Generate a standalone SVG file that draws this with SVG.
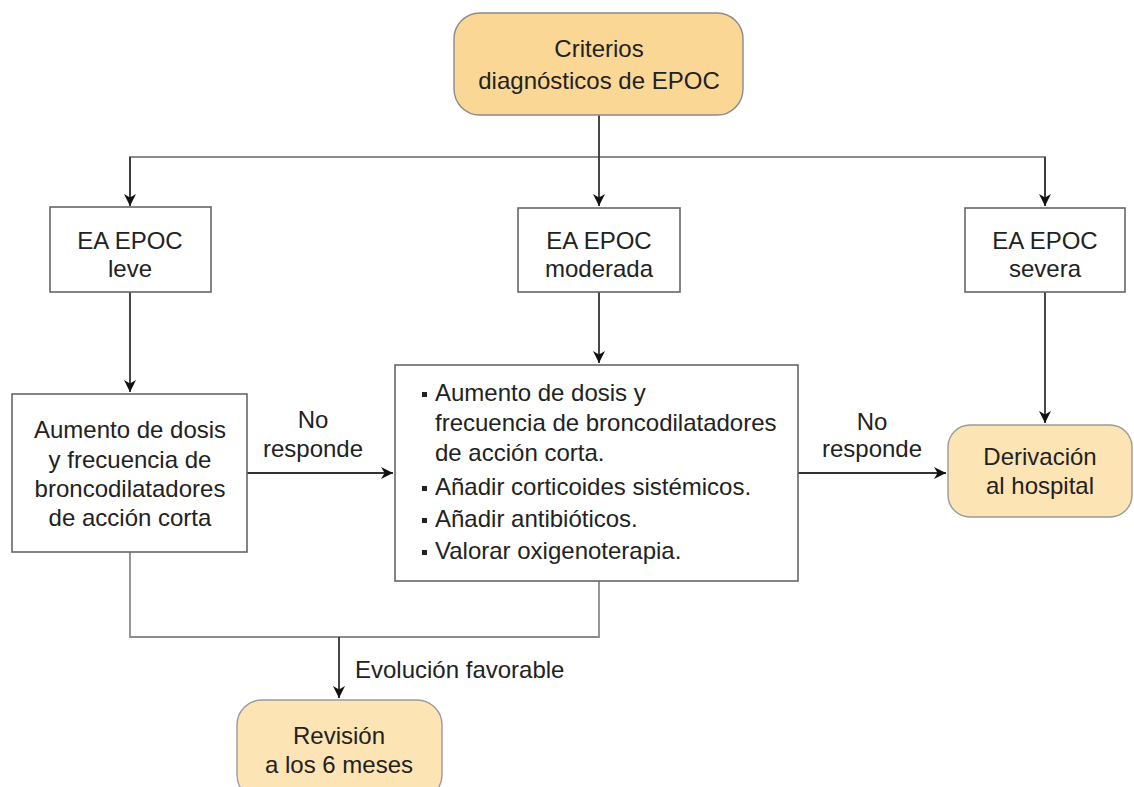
<svg xmlns="http://www.w3.org/2000/svg" width="1134" height="787" viewBox="0 0 1134 787">
<defs>
<style>
.box{fill:#ffffff;stroke:#666666;stroke-width:1.6}
.term{fill:#fde4b4;stroke:#9a9a9a;stroke-width:1.4}
.start{fill:#fbd796;stroke:#8a8a8a;stroke-width:1.4}
text{font-family:"Liberation Sans",Arial,sans-serif;font-size:24px;fill:#222222}
.c{text-anchor:middle}
.ln{fill:none;stroke:#333333;stroke-width:1.8}
.gl{fill:none;stroke:#8c8c8c;stroke-width:1.8}
</style>
<marker id="ah" markerWidth="12" markerHeight="12" refX="10" refY="5" orient="auto" markerUnits="userSpaceOnUse" viewBox="0 0 10 10">
<path d="M0,0 L10,5 L0,10 L3,5 Z" fill="#111111"/>
</marker>
</defs>
<rect width="1134" height="787" fill="#ffffff"/>
<g id="connectors">
<polyline class="gl" points="130,196 130,157 1045,157 1045,196"/>
<line class="ln" x1="130" y1="157" x2="130" y2="206" marker-end="url(#ah)"/>
<line class="ln" x1="1045" y1="157" x2="1045" y2="206" marker-end="url(#ah)"/>
<line class="ln" x1="599" y1="115" x2="599" y2="206" marker-end="url(#ah)"/>
<line class="ln" x1="130" y1="292" x2="130" y2="392" marker-end="url(#ah)"/>
<line class="ln" x1="599" y1="292" x2="599" y2="363" marker-end="url(#ah)"/>
<line class="ln" x1="1045" y1="292" x2="1045" y2="423" marker-end="url(#ah)"/>
<line class="ln" x1="247" y1="473" x2="393" y2="473" marker-end="url(#ah)"/>
<line class="ln" x1="798" y1="473" x2="946" y2="473" marker-end="url(#ah)"/>
<polyline class="gl" points="130,552 130,637 599,637 599,581"/>
<line class="ln" x1="339" y1="637" x2="339" y2="698" marker-end="url(#ah)"/>
<text x="313" y="428" class="c">No</text>
<text x="313" y="457" class="c">responde</text>
<text x="872" y="430" class="c">No</text>
<text x="872" y="457" class="c">responde</text>
<text x="355" y="678">Evolución favorable</text>
</g>
<g id="criterios">
<rect class="start" x="454" y="13" width="289" height="102" rx="26"/>
<text x="599" y="57" class="c">Criterios</text>
<text x="599" y="89" class="c">diagnósticos de EPOC</text>
</g>
<g id="leve">
<rect class="box" x="50" y="207" width="161" height="85"/>
<text x="130" y="249" class="c">EA EPOC</text>
<text x="130" y="277" class="c">leve</text>
</g>
<g id="moderada">
<rect class="box" x="518" y="208" width="162" height="84"/>
<text x="599" y="249" class="c">EA EPOC</text>
<text x="599" y="277" class="c">moderada</text>
</g>
<g id="severa">
<rect class="box" x="965" y="208" width="160" height="84"/>
<text x="1045" y="249" class="c">EA EPOC</text>
<text x="1045" y="277" class="c">severa</text>
</g>
<g id="tratamiento-leve">
<rect class="box" x="12" y="394" width="235" height="158"/>
<text x="130" y="438" class="c">Aumento de dosis</text>
<text x="130" y="468" class="c">y frecuencia de</text>
<text x="130" y="497" class="c">broncodilatadores</text>
<text x="130" y="526" class="c">de acción corta</text>
</g>
<g id="tratamiento-moderada">
<rect class="box" x="395" y="365" width="403" height="216"/>
<rect x="422" y="392" width="5" height="5" fill="#222222"/>
<text x="435" y="401">Aumento de dosis y</text>
<text x="435" y="431">frecuencia de broncodilatadores</text>
<text x="435" y="461">de acción corta.</text>
<rect x="422" y="486" width="5" height="5" fill="#222222"/>
<text x="435" y="495">Añadir corticoides sistémicos.</text>
<rect x="422" y="518" width="5" height="5" fill="#222222"/>
<text x="435" y="527">Añadir antibióticos.</text>
<rect x="422" y="550" width="5" height="5" fill="#222222"/>
<text x="435" y="559">Valorar oxigenoterapia.</text>
</g>
<g id="derivacion">
<rect class="term" x="948" y="425" width="184" height="92" rx="22"/>
<text x="1040" y="465" class="c">Derivación</text>
<text x="1040" y="494" class="c">al hospital</text>
</g>
<g id="revision">
<rect class="term" x="237" y="700" width="205" height="100" rx="25"/>
<text x="339" y="744" class="c">Revisión</text>
<text x="339" y="773" class="c">a los 6 meses</text>
</g>
</svg>
